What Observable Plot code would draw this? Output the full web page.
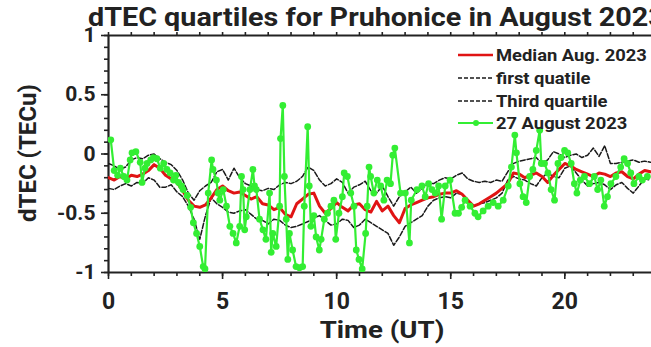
<!DOCTYPE html>
<html><head><meta charset="utf-8">
<script src="https://cdn.jsdelivr.net/npm/d3@7"></script>
<script src="https://cdn.jsdelivr.net/npm/@observablehq/plot@0.6"></script>
<style>
html,body{margin:0;padding:0;background:#fff;overflow:hidden}
#wrap{position:relative;width:651px;height:347px;overflow:hidden}
#wrap svg{position:absolute;left:0;top:0}
.lab{font-family:Roboto,sans-serif;font-weight:700;fill:#222}
</style></head><body><div id="wrap"></div>
<script>
// ---- data ----
const titleText = "dTEC quartiles for Pruhonice in August 2023";
const xLabel = "Time (UT)";
const yLabel = "dTEC (TECu)";
const legendLabels = ["Median Aug. 2023", "first quatile", "Third quartile", "27 August 2023"];

const xDomain = [0, 23.8];
const yDomain = [-1, 1];
const xTicks = [0, 5, 10, 15, 20];
const xMinor = [0,1,2,3,4,5,6,7,8,9,10,11,12,13,14,15,16,17,18,19,20,21,22,23];
const yTicks = [-1, -0.5, 0, 0.5, 1];
const yMinor = [-1,-0.9,-0.8,-0.7,-0.6,-0.5,-0.4,-0.3,-0.2,-0.1,0,0.1,0.2,0.3,0.4,0.5,0.6,0.7,0.8,0.9,1];

// quartile curves sampled every 15 minutes (0.00 h ... 23.75 h)
const stepHours = 0.25;
const median = [-0.20,-0.22,-0.19,-0.21,-0.18,-0.19,-0.17,-0.14,-0.09,-0.12,-0.18,-0.21,
  -0.24,-0.31,-0.39,-0.44,-0.45,-0.43,-0.37,-0.30,-0.27,-0.31,-0.33,-0.32,
  -0.35,-0.38,-0.36,-0.42,-0.43,-0.47,-0.45,-0.51,-0.53,-0.42,-0.38,-0.34,
  -0.33,-0.44,-0.50,-0.46,-0.41,-0.45,-0.48,-0.43,-0.42,-0.47,-0.49,-0.40,
  -0.48,-0.44,-0.52,-0.58,-0.46,-0.43,-0.41,-0.39,-0.37,-0.36,-0.34,-0.33,
  -0.33,-0.31,-0.34,-0.39,-0.44,-0.42,-0.39,-0.36,-0.33,-0.29,-0.25,-0.16,
  -0.17,-0.20,-0.18,-0.16,-0.19,-0.24,-0.18,-0.13,-0.08,-0.10,-0.13,-0.15,
  -0.17,-0.19,-0.16,-0.17,-0.19,-0.16,-0.15,-0.19,-0.21,-0.17,-0.14,-0.15];
const thirdQuartile = [-0.08,-0.10,-0.13,-0.11,-0.05,-0.03,-0.04,-0.01,0.00,-0.04,-0.07,-0.09,
  -0.14,-0.22,-0.33,-0.39,-0.31,-0.27,-0.24,-0.15,-0.13,-0.22,-0.12,-0.20,
  -0.25,-0.27,-0.30,-0.31,-0.29,-0.30,-0.26,-0.24,-0.25,-0.23,-0.19,-0.11,
  -0.14,-0.22,-0.27,-0.25,-0.21,-0.24,-0.33,-0.28,-0.26,-0.23,-0.31,-0.33,
  -0.27,-0.36,-0.44,-0.36,-0.32,-0.28,-0.33,-0.29,-0.24,-0.25,-0.22,-0.20,
  -0.21,-0.18,-0.16,-0.21,-0.23,-0.24,-0.23,-0.24,-0.22,-0.23,-0.15,-0.08,
  -0.06,-0.05,-0.04,-0.03,-0.08,-0.05,0.02,0.00,-0.03,-0.01,0.00,-0.03,
  -0.01,0.05,-0.02,0.07,-0.08,-0.08,-0.07,-0.06,-0.05,-0.07,-0.06,-0.07];
const firstQuartile = [-0.29,-0.30,-0.27,-0.25,-0.27,-0.24,-0.25,-0.20,-0.22,-0.28,-0.28,-0.26,
  -0.32,-0.36,-0.44,-0.55,-0.72,-0.52,-0.37,-0.42,-0.45,-0.49,-0.50,-0.48,
  -0.47,-0.51,-0.55,-0.56,-0.59,-0.55,-0.56,-0.60,-0.62,-0.61,-0.59,-0.57,
  -0.54,-0.52,-0.56,-0.60,-0.59,-0.55,-0.56,-0.62,-0.60,-0.55,-0.58,-0.61,
  -0.64,-0.67,-0.77,-0.70,-0.61,-0.58,-0.55,-0.52,-0.44,-0.39,-0.37,-0.36,
  -0.37,-0.33,-0.34,-0.42,-0.44,-0.42,-0.41,-0.39,-0.37,-0.33,-0.22,-0.19,
  -0.21,-0.22,-0.25,-0.27,-0.20,-0.16,-0.19,-0.20,-0.12,-0.10,-0.16,-0.22,
  -0.27,-0.25,-0.24,-0.26,-0.30,-0.26,-0.24,-0.29,-0.33,-0.27,-0.21,-0.22];

// 27 August 2023 observations
const dayHours = [0.10,0.25,0.40,0.52,0.67,0.81,0.95,1.03,1.20,1.39,1.47,1.60,1.69,1.85,1.97,2.12,2.27,2.42,2.56,2.70,2.85,2.95,3.07,3.20,3.27,3.45,3.60,3.72,3.86,4.00,4.15,4.23,4.37,4.52,4.58,4.73,4.80,4.88,5.03,5.17,5.32,5.46,5.60,5.75,5.83,5.90,5.97,6.04,6.20,6.33,6.40,6.48,6.62,6.77,6.90,7.06,7.13,7.20,7.35,7.50,7.54,7.64,7.71,7.79,7.86,7.93,8.07,8.22,8.37,8.51,8.58,8.73,8.80,8.87,9.00,9.10,9.24,9.32,9.46,9.60,9.75,9.88,9.96,10.10,10.25,10.33,10.47,10.62,10.76,10.86,10.98,11.12,11.27,11.34,11.42,11.49,11.63,11.78,11.93,12.07,12.21,12.36,12.46,12.55,12.80,13.01,13.19,13.27,13.52,13.74,13.88,14.03,14.18,14.32,14.47,14.60,14.76,14.97,15.19,15.34,15.48,15.63,15.85,16.06,16.20,16.42,16.64,16.86,17.08,17.30,17.52,17.66,17.81,17.88,18.03,18.17,18.31,18.46,18.60,18.75,18.90,18.97,19.11,19.26,19.40,19.55,19.70,19.84,19.99,20.13,20.28,20.42,20.53,20.68,20.86,21.08,21.29,21.44,21.58,21.73,21.87,22.02,22.24,22.45,22.60,22.75,22.89,23.03,23.25,23.40,23.62];
const dayValues = [0.12,-0.14,-0.18,-0.12,-0.19,-0.22,-0.05,0.01,0.02,-0.07,-0.24,-0.12,-0.08,-0.05,-0.03,-0.04,-0.12,-0.08,-0.13,-0.16,-0.22,-0.18,-0.24,-0.27,-0.30,-0.35,-0.45,-0.58,-0.67,-0.78,-0.95,-0.97,-0.33,-0.05,-0.13,-0.22,-0.33,-0.39,-0.30,-0.44,-0.61,-0.67,-0.75,-0.61,-0.19,-0.30,-0.64,-0.53,-0.30,-0.13,-0.27,-0.30,-0.55,-0.64,-0.72,-0.33,-0.83,-0.67,-0.78,-0.44,0.13,0.41,-0.19,-0.55,-0.89,-0.67,-0.81,-0.95,-0.96,-0.95,-0.44,0.23,-0.27,-0.61,-0.52,-0.70,-0.81,-0.72,-0.55,-0.50,-0.44,-0.39,-0.72,-0.50,-0.36,-0.16,-0.19,-0.33,-0.44,-0.81,-0.89,-0.97,-0.67,-0.44,-0.11,-0.19,-0.33,-0.22,-0.27,-0.39,-0.22,-0.25,-0.01,0.05,-0.33,-0.33,-0.75,-0.39,-0.30,-0.27,-0.36,-0.25,-0.30,-0.33,-0.27,-0.55,-0.27,-0.22,-0.50,-0.50,-0.45,-0.39,-0.44,-0.50,-0.53,-0.48,-0.44,-0.41,-0.44,-0.39,-0.27,-0.11,0.16,0.01,-0.25,-0.36,-0.41,-0.19,-0.13,0.03,0.20,-0.08,-0.08,-0.16,-0.30,-0.39,-0.08,-0.03,0.03,0.01,-0.08,-0.25,-0.33,-0.22,-0.19,-0.25,-0.19,-0.30,-0.22,-0.44,-0.36,-0.25,-0.19,-0.11,-0.04,-0.08,-0.16,-0.25,-0.19,-0.22,-0.19];

// ---- styles ----
const cRed = "#e01414", cGreen = "#33ee33", cBlack = "#1a1a1a", cAxis = "#222";
const dash = "5,2";

const qRows = (arr) => arr.map((v, i) => ({t: i * stepHours, v}));
const dayRows = dayHours.map((t, i) => ({t, v: dayValues[i]}));

const plot = Plot.plot({
  width: 651, height: 347,
  marginLeft: 108, marginRight: 0, marginTop: 35, marginBottom: 75,
  x: {domain: xDomain},
  y: {domain: yDomain},
  style: {fontFamily: "Roboto, sans-serif", color: cAxis, background: "transparent", overflow: "visible"},
  marks: [
    Plot.axisX({anchor: "bottom", ticks: xMinor, tickSize: 4, tickFormat: () => "", label: null, stroke: cAxis, strokeWidth: 1.6}),
    Plot.axisX({anchor: "bottom", ticks: xTicks, tickSize: 7, tickPadding: 13, tickFormat: d => String(d), label: null, fontSize: 23, fontWeight: "bold", stroke: cAxis, strokeWidth: 1.6, fill: cAxis}),
    Plot.axisX({anchor: "top", ticks: xMinor, tickSize: 4, tickFormat: () => "", label: null, stroke: cAxis, strokeWidth: 1.6}),
    Plot.axisY({anchor: "left", ticks: yMinor, tickSize: 4, tickFormat: () => "", label: null, stroke: cAxis, strokeWidth: 1.6}),
    Plot.axisY({anchor: "left", ticks: yTicks, tickSize: 7, tickPadding: 6, tickFormat: d => String(d), label: null, fontSize: 21, fontWeight: "bold", stroke: cAxis, strokeWidth: 1.6, fill: cAxis}),
    Plot.ruleX([xDomain[0]], {stroke: cAxis, strokeWidth: 2.2}),
    Plot.ruleY(yDomain, {stroke: cAxis, strokeWidth: 2.2}),
    Plot.line(qRows(thirdQuartile), {x: "t", y: "v", stroke: cBlack, strokeWidth: 1.5, strokeDasharray: dash, clip: true}),
    Plot.line(qRows(firstQuartile), {x: "t", y: "v", stroke: cBlack, strokeWidth: 1.5, strokeDasharray: dash, clip: true}),
    Plot.line(qRows(median), {x: "t", y: "v", stroke: cRed, strokeWidth: 3, clip: true}),
    Plot.line(dayRows, {x: "t", y: "v", stroke: cGreen, strokeWidth: 2.2, clip: true}),
    Plot.dot(dayRows, {x: "t", y: "v", fill: cGreen, r: 3.4, clip: true})
  ]
});
const wrap = document.getElementById("wrap");
wrap.appendChild(plot);

// ---- titles and legend overlay ----
const ns = "http://www.w3.org/2000/svg";
const ov = document.createElementNS(ns, "svg");
ov.setAttribute("width", 651); ov.setAttribute("height", 347);
function txt(s, x, y, size, opts = {}) {
  const t = document.createElementNS(ns, "text");
  t.setAttribute("class", "lab");
  t.setAttribute("font-size", size);
  let tr = `translate(${x},${y})`;
  if (opts.rotate) tr += ` rotate(${opts.rotate})`;
  if (opts.sx) tr += ` scale(${opts.sx},1)`;
  t.setAttribute("transform", tr);
  if (opts.anchor) t.setAttribute("text-anchor", opts.anchor);
  t.textContent = s;
  ov.appendChild(t);
}
function ln(x1, y1, x2, y2, stroke, w, dasharray) {
  const l = document.createElementNS(ns, "line");
  l.setAttribute("x1", x1); l.setAttribute("y1", y1); l.setAttribute("x2", x2); l.setAttribute("y2", y2);
  l.setAttribute("stroke", stroke); l.setAttribute("stroke-width", w);
  if (dasharray) l.setAttribute("stroke-dasharray", dasharray);
  ov.appendChild(l);
}
txt(titleText, 88, 26, 25, {sx: 1.15});
txt(xLabel, 382, 338, 24, {anchor: "middle", sx: 1.15});
txt(yLabel, 36, 153, 24, {anchor: "middle", rotate: -90});

const legY = [55, 78, 101, 123];
const legStyles = [
  {stroke: cRed, w: 2.5},
  {stroke: cBlack, w: 1.5, dash: "4,2"},
  {stroke: cBlack, w: 1.5, dash: "4,2"},
  {stroke: cGreen, w: 2, dot: true}
];
legendLabels.forEach((s, i) => {
  const st = legStyles[i];
  ln(458, legY[i], 493, legY[i], st.stroke, st.w, st.dash);
  if (st.dot) {
    const c = document.createElementNS(ns, "circle");
    c.setAttribute("cx", 476); c.setAttribute("cy", legY[i]); c.setAttribute("r", 3);
    c.setAttribute("fill", cGreen); ov.appendChild(c);
  }
  txt(s, 496, legY[i] + 6, 17, {sx: 1.08});
});
wrap.appendChild(ov);
</script>
</body></html>
